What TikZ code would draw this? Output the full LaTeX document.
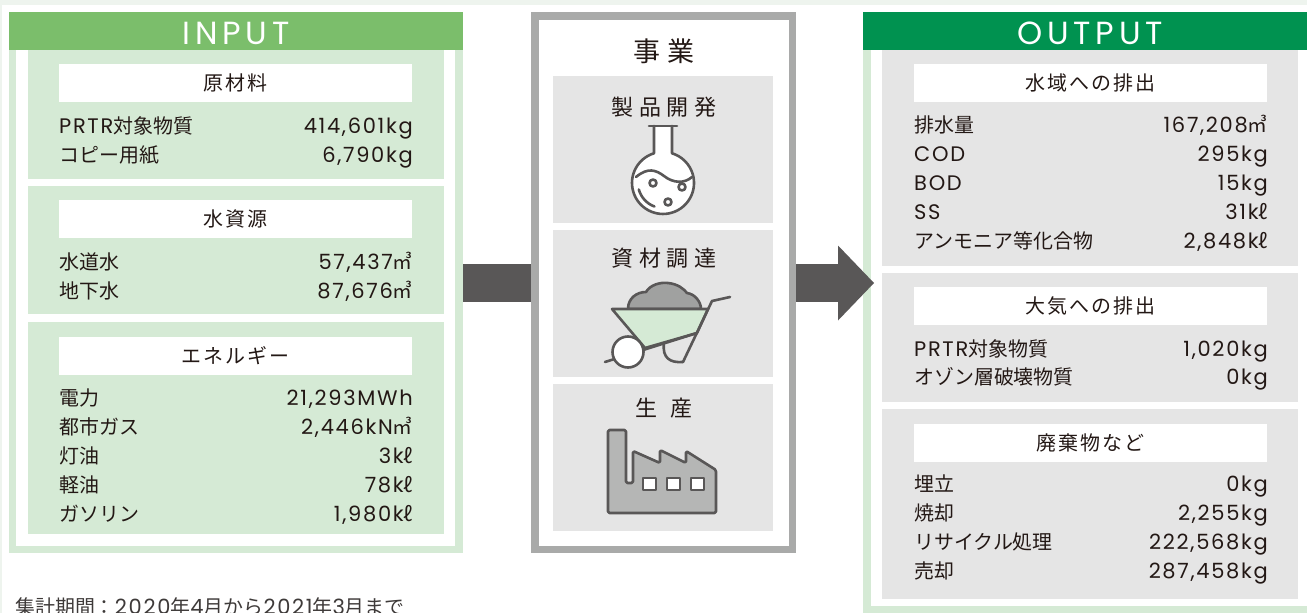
\documentclass[tikz,border=0pt]{standalone}
\usepackage{fontspec}
\setmainfont{Poppins}[LetterSpace=8]
\newfontfamily\jp{Noto Sans CJK JP}[Scale=0.95]
\newfontfamily\jpsp{Noto Sans CJK JP}[Scale=0.95,LetterSpace=10]
\newfontfamily\jpwide{Noto Sans CJK JP}[LetterSpace=25]
\newfontfamily\headfont{Poppins}[LetterSpace=15]
\usetikzlibrary{arrows.meta}
\definecolor{ingreen}{HTML}{7BBE6B}
\definecolor{outgreen}{HTML}{009250}
\definecolor{palegreen}{HTML}{D5EAD5}
\definecolor{boxgray}{HTML}{E5E5E5}
\definecolor{framegray}{HTML}{A9AAA9}
\definecolor{inkgray}{HTML}{595757}
\definecolor{moundgray}{HTML}{A0A1A0}
\definecolor{plantgray}{HTML}{B5B6B5}
\definecolor{bgstrip}{HTML}{EEF4EE}
\definecolor{txt}{HTML}{231815}
\definecolor{notegray}{HTML}{3E3A39}
\newcommand{\jt}[1]{{\jp #1}}

\begin{document}
\begin{tikzpicture}[x=1pt,y=-1pt,
  lbl/.style={anchor=base west,inner sep=0pt,text=txt,font=\fontsize{21}{21}\selectfont},
  val/.style={anchor=base east,inner sep=0pt,text=txt,font=\fontsize{21}{21}\selectfont},
  ttlbox/.style={fill=white,minimum width=353pt,minimum height=38pt,inner sep=0pt,text=txt,font=\jpsp\fontsize{21}{21}\selectfont},
  headtxt/.style={text=white,inner sep=0pt,font=\headfont\fontsize{32}{32}\selectfont},
  bizttl/.style={inner sep=0pt,text=txt,font=\jpwide\fontsize{22}{22}\selectfont},
  icon/.style={draw=inkgray,line width=2.6pt,line join=round,line cap=round}]
\useasboundingbox (0,0) rectangle (1307,613);
\fill[bgstrip] (0,0) rectangle (1307,613);
\fill[white] (1.5,4.5) rectangle (1307,613);

% INPUT
\fill[palegreen] (9,50) rectangle (463,553);
\fill[white] (16,50) rectangle (455,546);
\fill[ingreen] (9,12) rectangle (463,50);
\node[headtxt] (inlbl) at (236,33.5) {INPUT};
\fill[palegreen] (28,50) rectangle (444,179);
\fill[palegreen] (28,186) rectangle (444,314);
\fill[palegreen] (28,322) rectangle (444,534);
\node[ttlbox] (raw) at (235.5,83) {原材料};
\node[ttlbox] (water) at (235.5,219) {水資源};
\node[ttlbox] (energy) at (235.5,356) {エネルギー};
\foreach \lab/\val [count=\i] in {PRTR\jt{対象物質}/{414,601kg}, \jt{コピー用紙}/{6,790kg}}{
\node[lbl] (raw-l\i) at (59,104+29*\i) {\lab};
\node[val] (raw-v\i) at (413,104+29*\i) {\val};
}
\foreach \lab/\val [count=\i] in {\jt{水道水}/{57,437\jt{㎥}}, \jt{地下水}/{87,676\jt{㎥}}}{
\node[lbl] (water-l\i) at (59,240+29*\i) {\lab};
\node[val] (water-v\i) at (413,240+29*\i) {\val};
}
\foreach \lab/\val [count=\i] in {\jt{電力}/{21,293MWh}, \jt{都市ガス}/{2,446kN\jt{㎥}}, \jt{灯油}/{3k\jt{ℓ}}, \jt{軽油}/{78k\jt{ℓ}}, \jt{ガソリン}/{1,980k\jt{ℓ}}}{
\node[lbl] (energy-l\i) at (59,376+29*\i) {\lab};
\node[val] (energy-v\i) at (413,376+29*\i) {\val};
}

% business
\draw[framegray,line width=7.5pt] (534.75,15.75) rectangle (792.25,549.25);
\fill[boxgray] (553,76) rectangle (773,223);
\fill[boxgray] (553,230) rectangle (773,377);
\fill[boxgray] (553,384) rectangle (773,531);
\node[bizttl,font=\jpwide\fontsize{27}{27}\selectfont] (biz) at (664,51) {事業};
\node[bizttl] (dev) at (664,107) {製品開発};
\node[bizttl] (buy) at (664,258) {資材調達};
\node[bizttl] (make) at (664,408) {生\kern14pt 産};
% flask
\fill[white] (663,183) circle[radius=31];
\fill[white] (654,126) rectangle (672,156);
\draw[icon] (654,126) -- (654,153.3) arc[start angle=253.1,end angle=-73.1,radius=31] -- (672,126);
\draw[icon] (649,126) -- (677,126);
\draw[icon] (636,177) .. controls (648,167) and (656,170) .. (664,176) .. controls (673,183) and (684,184) .. (692,177);
\draw[icon,fill=white] (653,183) circle[radius=3.5];
\draw[icon,fill=white] (682,187) circle[radius=3.5];
\draw[icon,fill=white] (668,202) circle[radius=3.5];
\draw[icon] (663,183) ++(165:25) arc[start angle=165,end angle=110,radius=25];
% wheelbarrow
\filldraw[icon,fill=moundgray] (628,309) .. controls (628,298) and (637,292) .. (646,292) .. controls (650,285) and (660,282) .. (668,283) .. controls (678,284) and (684,289) .. (687,293) .. controls (695,294) and (701,302) .. (701,309) -- cycle;
\filldraw[icon,fill=palegreen] (612,309) -- (708,309) -- (697,333) -- (645,348) -- cycle;
\draw[icon] (664,343) .. controls (662,358) and (670,363) .. (683,362);
\draw[icon] (683,362) -- (712,301) -- (730,297);
\draw[icon] (605,362) -- (697,333);
\draw[icon,fill=white] (628,352) circle[radius=15.5];
% factory
\filldraw[icon,fill=plantgray,rounded corners=1.5pt] (608,513) -- (608,430) -- (626,430) -- (626,483) -- (633,483) -- (633,451) -- (660,463) -- (660,450) -- (686,463) -- (686,451) -- (716,470) -- (716,513) -- cycle;
\foreach \wx in {643,667,691}{
\draw[icon,fill=white,line width=2pt] (\wx,478) rectangle (\wx+12.5,490);
}

% OUTPUT
\fill[palegreen] (863,50) rectangle (1307,613);
\fill[white] (871,50) rectangle (1307,606);
\fill[outgreen] (863,12) rectangle (1307,50);
\node[headtxt] (outlbl) at (1090,33.5) {OUTPUT};
\fill[boxgray] (882,50) rectangle (1298,266);
\fill[boxgray] (882,273) rectangle (1298,402);
\fill[boxgray] (882,409) rectangle (1298,599);
\node[ttlbox] (sea) at (1090.5,83) {水域への排出};
\node[ttlbox] (air) at (1090.5,306) {大気への排出};
\node[ttlbox] (waste) at (1090.5,443) {廃棄物など};
\foreach \lab/\val [count=\i] in {\jt{排水量}/{167,208\jt{㎥}}, COD/295kg, BOD/15kg, SS/{31k\jt{ℓ}}, \jt{アンモニア等化合物}/{2,848k\jt{ℓ}}}{
\node[lbl] (sea-l\i) at (914,103+29*\i) {\lab};
\node[val] (sea-v\i) at (1268,103+29*\i) {\val};
}
\foreach \lab/\val [count=\i] in {PRTR\jt{対象物質}/{1,020kg}, \jt{オゾン層破壊物質}/0kg}{
\node[lbl] (air-l\i) at (914,328+28*\i) {\lab};
\node[val] (air-v\i) at (1268,328+28*\i) {\val};
}
\foreach \lab/\val [count=\i] in {\jt{埋立}/0kg, \jt{焼却}/{2,255kg}, \jt{リサイクル処理}/{222,568kg}, \jt{売却}/{287,458kg}}{
\node[lbl] (waste-l\i) at (914,462+29*\i) {\lab};
\node[val] (waste-v\i) at (1268,462+29*\i) {\val};
}

% arrows
\coordinate (inR) at (463,283);
\coordinate (midL) at (531,283);
\coordinate (midR) at (796,283);
\coordinate (outL) at (874,283);
\draw[inkgray,line width=38pt] (inR) -- (midL);
\draw[inkgray,line width=38pt,-{Triangle[length=36pt,width=75pt,line width=0pt]}] (midR) -- (outL);

\node[anchor=base west,inner sep=0pt,text=notegray,font=\fontsize{21}{21}\selectfont] (period) at (15,614) {\jt{集計期間：}2020\jt{年}4\jt{月から}2021\jt{年}3\jt{月まで}};
\end{tikzpicture}
\end{document}
